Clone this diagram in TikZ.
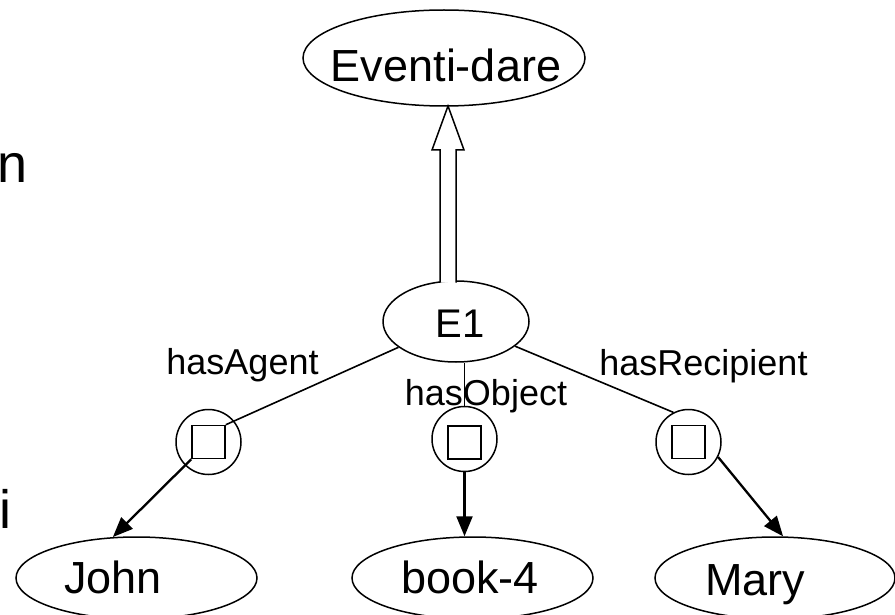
\documentclass[tikz,border=0pt]{standalone}
\usepackage{fontspec}
\setmainfont{Liberation Sans}
\usetikzlibrary{shapes.geometric,arrows.meta,calc}
\begin{document}
\begin{tikzpicture}[x=1pt,y=-1pt,
  oval/.style={draw, ellipse, line width=1.5pt, inner sep=0pt},
  bubble/.style={draw, circle, line width=1.5pt, minimum size=65pt, inner sep=0pt},
  sq/.style={draw, rectangle, line width=1.5pt, minimum size=33pt, inner sep=0pt},
  txt/.style={inner sep=0pt, anchor=base, font=\fontsize{45}{50}\selectfont},
  lab/.style={inner sep=0pt, anchor=base, font=\fontsize{36}{40}\selectfont},
  frag/.style={inner sep=0pt, anchor=base west, font=\fontsize{54}{60}\selectfont},
  link/.style={line width=1.6pt},
  arr/.style={line width=2.3pt, -{Triangle[length=20pt,width=16pt]}}]
\useasboundingbox (0,0) rectangle (895,615);

% ellipses
\node[oval, minimum width=282pt, minimum height=96pt] (ev) at (444,58) {};
\node[txt] (evt) at (446,82) {Eventi-dare};
\node[oval, minimum width=146pt, minimum height=81pt] (E1) at (456,321.5) {};
\node[txt, font=\fontsize{40}{44}\selectfont] (e1t) at (460,337) {E1};
\node[oval, minimum width=241pt, minimum height=82pt] (john) at (136.5,578) {};
\node[txt] (johnt) at (113,593) {John};
\node[oval, minimum width=241pt, minimum height=82pt] (book) at (472.5,578) {};
\node[txt] (bookt) at (470,593) {book-4};
\node[oval, minimum width=240pt, minimum height=82pt] (mary) at (775,578) {};
\node[txt] (maryt) at (755,595) {Mary};

% bubbles
\node[bubble] (cA) at (208.5,442) {};
\node[sq] (sA) at (208.5,442) {};
\node[bubble] (cO) at (464.5,439) {};
\node[sq] (sO) at (464.5,442.5) {};
\node[bubble] (cR) at (688.5,442) {};
\node[sq] (sR) at (688.5,442) {};

% labels
\node[lab] (la) at (242.5,374) {hasAgent};
\node[lab] (lo) at (486,405) {hasObject};
\node[lab] (lr) at (703.5,375) {hasRecipient};

% hollow arrow E1 -> Eventi-dare
\coordinate (hb) at (448,282.5);
\coordinate (ht) at (448,106);
\draw[line width=1.5pt, fill=white]
  ($(hb)+(-8,0)$) -- ($(ht)+(-8,44)$) -- ($(ht)+(-16,44)$) -- (ht)
  -- ($(ht)+(16,44)$) -- ($(ht)+(8,44)$) -- ($(hb)+(8,0)$);

% links
\draw[link] (E1) -- (sA.north east);
\draw[link] (cO.north) -- (cO.north |- E1.south);
\draw[link] (E1) -- (cR.117);

% arrows
\draw[arr] (sA.south west) -- (john.120);
\draw[arr] (cO.south) -- (cO.south |- book.north);
\draw[arr] (cR.-27) -- (mary.79);

% fragments of text at the left edge
\node[frag] (f1) at (-3,183) {n};
\node[frag] (f2) at (-0.5,528) {i};
\end{tikzpicture}
\end{document}
